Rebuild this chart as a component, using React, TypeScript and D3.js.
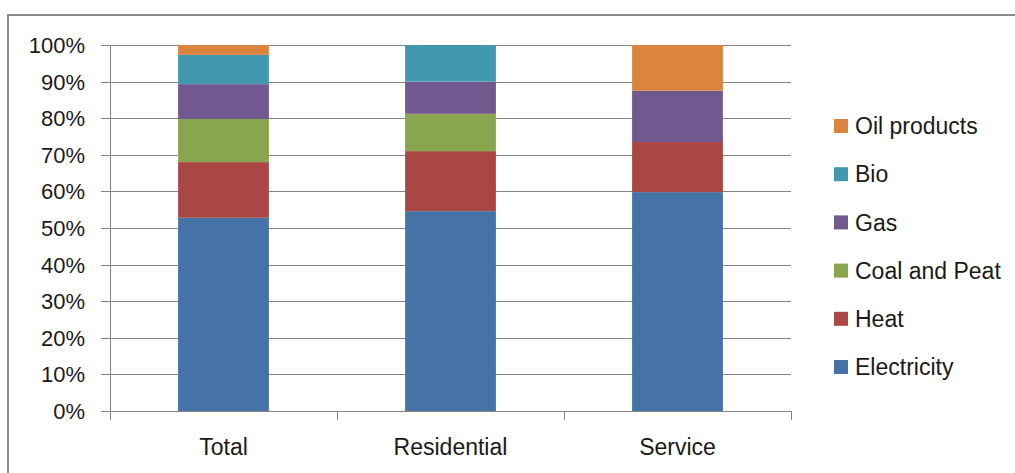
import React from 'react';
import * as d3 from 'd3';

const categories = ['Total', 'Residential', 'Service'];
const seriesNames = ['Electricity', 'Heat', 'Coal and Peat', 'Gas', 'Bio', 'Oil products'];
const seriesColors = ['#4572A7', '#AA4643', '#89A54E', '#71588F', '#4198AF', '#DB843D'];

// shares in percent, per category (Total, Residential, Service)
const electricity = [52.8, 54.6, 59.8];
const heat = [15.2, 16.4, 13.7];
const coalAndPeat = [11.8, 10.2, 0];
const gas = [9.5, 8.8, 14.0];
const bio = [8.0, 10.0, 0];
const oilProducts = [2.7, 0, 12.5];

const yTicks = [0, 10, 20, 30, 40, 50, 60, 70, 80, 90, 100];

const WIDTH = 1015;
const HEIGHT = 473;
const FONT = '"Liberation Sans", Arial, sans-serif';

export default function App() {
  const values = [electricity, heat, coalAndPeat, gas, bio, oilProducts];

  const rows = categories.map((c, i) => {
    const row: Record<string, number | string> = { category: c };
    seriesNames.forEach((s, j) => (row[s] = values[j][i]));
    return row;
  });

  const stacked = d3.stack<Record<string, number | string>>()
    .keys(seriesNames)
    .value((d, key) => d[key] as number)(rows);

  const x = d3.scaleBand()
    .domain(categories)
    .range([110, 791])
    .paddingInner(0.6)
    .paddingOuter(0.3);

  const y = d3.scaleLinear().domain([0, 100]).range([411, 45]);

  const legendY = d3.scalePoint()
    .domain([...seriesNames].reverse())
    .range([126, 367]);

  const step = x.step();
  const boundaries = d3.range(categories.length + 1).map(i => 110 + i * step);

  const gridColor = '#868686';

  return (
    <div style={{ position: 'absolute', left: 0, top: 0 }}>
      <svg width={WIDTH} height={HEIGHT} style={{ display: 'block', fontFamily: FONT }}>
        <rect x={0} y={0} width={WIDTH} height={HEIGHT} fill="#fff" />
        <rect x={8} y={15} width={WIDTH + 20} height={HEIGHT + 20} fill="none" stroke="#8c8c8c" strokeWidth={2} />

        {/* gridlines + y ticks */}
        {yTicks.map(t => (
          <g key={t}>
            <line x1={101} x2={791} y1={Math.round(y(t)) + 0.5} y2={Math.round(y(t)) + 0.5} stroke={gridColor} strokeWidth={1} />
            <text x={85} y={y(t)} dy="0.36em" textAnchor="end" fontSize={22} fill="#1a1a1a">{t}%</text>
          </g>
        ))}

        {/* bars */}
        {stacked.map((layer, j) => (
          <g key={layer.key} fill={seriesColors[j]}>
            {layer.map((d, i) => (
              d[1] - d[0] > 0 ? (
                <rect
                  key={i}
                  x={x(categories[i])}
                  y={y(d[1])}
                  width={x.bandwidth()}
                  height={y(d[0]) - y(d[1])}
                />
              ) : null
            ))}
          </g>
        ))}

        {/* axes */}
        <line x1={110.5} x2={110.5} y1={45} y2={412} stroke={gridColor} strokeWidth={1} />
        <line x1={110} x2={791} y1={411.5} y2={411.5} stroke={gridColor} strokeWidth={1} />
        {boundaries.map((b, i) => (
          <line key={i} x1={Math.round(b) + 0.5} x2={Math.round(b) + 0.5} y1={411} y2={420} stroke={gridColor} strokeWidth={1} />
        ))}
        {categories.map(c => (
          <text key={c} x={(x(c) ?? 0) + x.bandwidth() / 2} y={455} textAnchor="middle" fontSize={23} fill="#1a1a1a">{c}</text>
        ))}

        {/* legend */}
        {seriesNames.map((s, j) => (
          <g key={s} transform={`translate(834,${legendY(s)})`}>
            <rect x={0} y={-7} width={14} height={14} fill={seriesColors[j]} />
            <text x={21} y={0} dy="0.36em" fontSize={23} fill="#1a1a1a">{s}</text>
          </g>
        ))}
      </svg>
    </div>
  );
}
